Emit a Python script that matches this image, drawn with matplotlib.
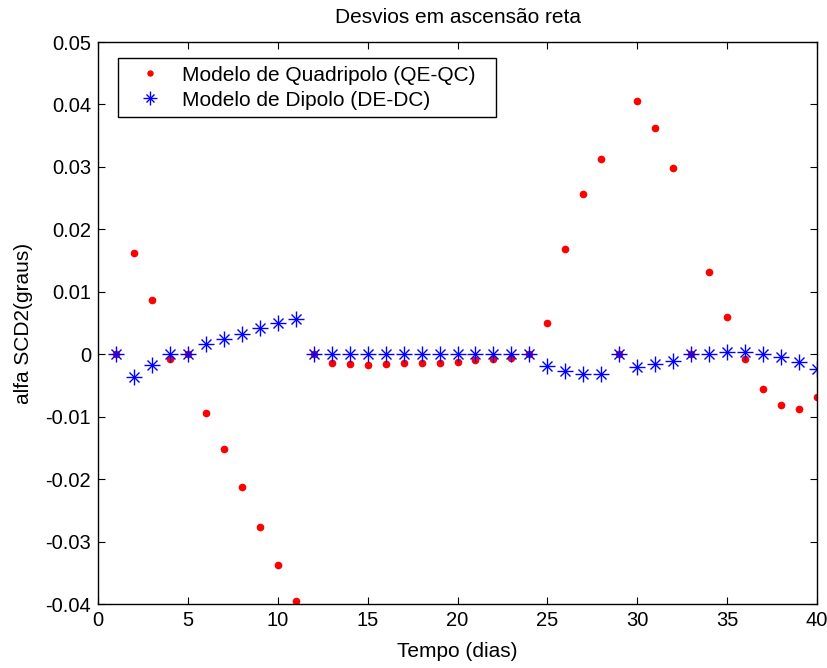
import matplotlib.pyplot as plt
from matplotlib.legend_handler import HandlerTuple

plt.rcParams['font.family'] = ['Liberation Sans', 'DejaVu Sans']

# days 1..40
dias = list(range(1, 41))

# Modelo de Quadripolo (QE-QC)
quadripolo = [0.0, 0.0162, 0.0087, -0.0007, 0.0, -0.0094, -0.0152, -0.0213, -0.0276, -0.0337,
              -0.0395, 0.0, -0.0014, -0.0016, -0.0017, -0.0016, -0.0014, -0.0014, -0.0014, -0.0012,
              -0.0009, -0.0007, -0.0006, 0.0, 0.0050, 0.0169, 0.0257, 0.0312, 0.0, 0.0405,
              0.0362, 0.0299, 0.0, 0.0132, 0.0059, -0.0008, -0.0055, -0.0082, -0.0088, -0.0069]

# Modelo de Dipolo (DE-DC)
dipolo = [0.0, -0.0037, -0.0018, 0.0, 0.0, 0.0016, 0.0024, 0.0032, 0.0042, 0.0050,
          0.0056, 0.0, 0.0, 0.0, 0.0, 0.0, 0.0, 0.0, 0.0, 0.0,
          0.0, 0.0, 0.0, 0.0, -0.0019, -0.0027, -0.0032, -0.0032, 0.0, -0.0021,
          -0.0016, -0.0011, 0.0, 0.0, 0.0003, 0.0003, 0.0, -0.0004, -0.0013, -0.0024]

fig = plt.figure(figsize=(8.28, 6.68), dpi=100)
ax = fig.add_axes([0.1184, 0.0958, 0.8683, 0.8413])

red, = ax.plot(dias, quadripolo, '.', color='red', markersize=9, linestyle='none')
b1, = ax.plot(dias, dipolo, '+', color='blue', markersize=12, markeredgewidth=1.0, linestyle='none')
b2, = ax.plot(dias, dipolo, 'x', color='blue', markersize=7, markeredgewidth=1.0, linestyle='none')

ax.set_xlim(0, 40)
ax.set_ylim(-0.04, 0.05)
ax.set_xticks(range(0, 41, 5))
ax.set_yticks([-0.04, -0.03, -0.02, -0.01, 0, 0.01, 0.02, 0.03, 0.04, 0.05])
ax.set_yticklabels(['-0.04', '-0.03', '-0.02', '-0.01', '0', '0.01', '0.02', '0.03', '0.04', '0.05'])
ax.tick_params(direction='in', top=True, right=True, labelsize=14.5, length=5, pad=5)
for s in ax.spines.values():
    s.set_linewidth(1.0)

ax.set_title('Desvios em ascensão reta', fontsize=15, pad=14)
ax.set_xlabel('Tempo (dias)', fontsize=15, labelpad=9)
ax.set_ylabel('alfa SCD2(graus)', fontsize=15, labelpad=9)

ax.legend([red, (b1, b2)], ['Modelo de Quadripolo (QE-QC)', 'Modelo de Dipolo (DE-DC)'],
          handler_map={tuple: HandlerTuple(ndivide=1, pad=0)},
          loc='upper left', bbox_to_anchor=(0.0278, 0.5, 0.5257, 0.4715), mode='expand',
          borderaxespad=0, fontsize=15, fancybox=False, edgecolor='black', framealpha=1,
          borderpad=0.36, labelspacing=0.3, handletextpad=0.36, handlelength=2.35,
          markerscale=0.8)

plt.savefig('out.png', dpi=100)
